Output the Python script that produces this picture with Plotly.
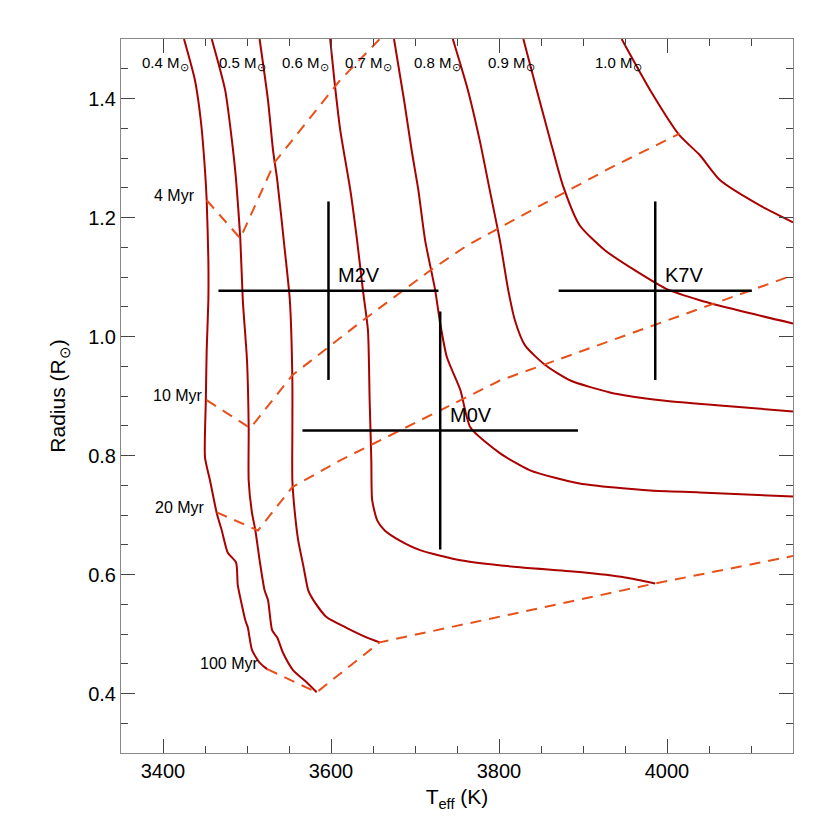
import plotly.graph_objects as go

# pre-main-sequence tracks, Teff (K) and radius (Rsun)
track_teff = [
    [3425, 3438, 3445, 3450, 3452, 3454, 3454, 3452, 3451, 3450, 3456, 3464, 3470, 3477, 3487, 3489, 3494, 3498, 3501, 3506, 3515, 3524],
    [3458, 3474, 3482, 3487, 3492, 3495, 3500, 3502, 3502, 3506, 3510, 3515, 3521, 3525, 3530, 3536, 3543, 3555, 3571, 3583],
    [3515, 3525, 3531, 3536, 3545, 3551, 3554, 3554, 3554, 3557, 3561, 3567, 3573, 3579, 3595, 3619, 3643, 3658],
    [3599, 3604, 3611, 3623, 3631, 3638, 3644, 3646, 3648, 3649, 3655, 3664, 3682, 3706, 3754, 3825, 3896, 3950, 3986],
    [3675, 3687, 3696, 3704, 3712, 3724, 3730, 3738, 3754, 3766, 3801, 3837, 3896, 3980, 4039, 4150],
    [3745, 3763, 3777, 3789, 3801, 3811, 3819, 3831, 3855, 3885, 3932, 3992, 4063, 4150],
    [3829, 3845, 3861, 3876, 3896, 3926, 3962, 3998, 4039, 4099, 4150],
    [3946, 3980, 4015, 4039, 4063, 4111, 4150],
]
track_rad = [
    [1.50, 1.431, 1.363, 1.279, 1.229, 1.128, 1.061, 0.977, 0.893, 0.797, 0.758, 0.703, 0.674, 0.637, 0.620, 0.582, 0.548, 0.523, 0.511, 0.473, 0.452, 0.441],
    [1.50, 1.414, 1.330, 1.263, 1.165, 1.061, 0.960, 0.846, 0.758, 0.703, 0.674, 0.624, 0.573, 0.557, 0.506, 0.494, 0.468, 0.439, 0.419, 0.402],
    [1.50, 1.397, 1.313, 1.263, 1.145, 1.061, 0.926, 0.842, 0.758, 0.703, 0.657, 0.615, 0.573, 0.557, 0.528, 0.510, 0.494, 0.486],
    [1.50, 1.431, 1.347, 1.246, 1.162, 1.078, 1.010, 0.893, 0.792, 0.725, 0.691, 0.674, 0.657, 0.641, 0.624, 0.612, 0.604, 0.595, 0.585],
    [1.50, 1.397, 1.313, 1.246, 1.162, 1.078, 1.022, 0.965, 0.910, 0.847, 0.804, 0.775, 0.753, 0.741, 0.738, 0.731],
    [1.50, 1.414, 1.330, 1.246, 1.162, 1.078, 1.027, 0.985, 0.952, 0.926, 0.906, 0.893, 0.884, 0.874],
    [1.50, 1.414, 1.330, 1.254, 1.187, 1.145, 1.111, 1.081, 1.061, 1.039, 1.022],
    [1.50, 1.414, 1.338, 1.305, 1.263, 1.220, 1.192],
]
mass_labels = ["0.4", "0.5", "0.6", "0.7", "0.8", "0.9", "1.0"]
mass_label_teff = [3373, 3464, 3539, 3614, 3697, 3784, 3912]
mass_label_rad = 1.459

# isochrones
iso_names = ["4 Myr", "10 Myr", "20 Myr", "100 Myr"]
iso_teff = [
    [3452, 3492, 3533, 3611, 3658],
    [3452, 3504, 3554, 3635, 3718, 3762, 3849, 3932, 4015],
    [3464, 3513, 3554, 3611, 3801, 4099, 4150],
    [3524, 3583, 3658, 3986, 4150],
]
iso_rad = [
    [1.229, 1.165, 1.293, 1.431, 1.50],
    [0.893, 0.846, 0.935, 1.024, 1.111, 1.153, 1.220, 1.283, 1.341],
    [0.7045, 0.674, 0.747, 0.792, 0.926, 1.078, 1.103],
    [0.441, 0.402, 0.486, 0.585, 0.631],
]
iso_label_teff = [3440, 3450, 3452, 3515]
iso_label_rad = [1.237, 0.901, 0.713, 0.451]

# spectral type boxes
spt = ["M2V", "M0V", "K7V"]
spt_teff = [3597, 3730, 3986]
spt_teff_err = [131, 164, 115]
spt_rad = [1.077, 0.842, 1.077]
spt_rad_err = [0.15, 0.20, 0.15]

track_color = "#AA0000"
iso_color = "#E8501A"
font = "Liberation Sans, Arial, sans-serif"

fig = go.Figure()

for tx, ty in zip(track_teff, track_rad):
    fig.add_trace(go.Scatter(x=tx, y=ty, mode="lines",
                             line=dict(color=track_color, width=2, shape="spline", smoothing=0.6),
                             showlegend=False))

for name, tx, ty in zip(iso_names, iso_teff, iso_rad):
    fig.add_trace(go.Scatter(x=tx, y=ty, mode="lines", name=name,
                             line=dict(color=iso_color, width=2, dash="11px,8px"),
                             showlegend=False))

fig.add_trace(go.Scatter(
    x=spt_teff, y=spt_rad, mode="markers", marker=dict(size=1, color="black"),
    error_x=dict(type="data", array=spt_teff_err, color="black", thickness=2.5, width=0),
    error_y=dict(type="data", array=spt_rad_err, color="black", thickness=2.5, width=0),
    showlegend=False))

for s, tx, ty in zip(spt, spt_teff, spt_rad):
    fig.add_annotation(x=tx, y=ty, text=s, showarrow=False, xanchor="left", yanchor="middle",
                       xshift=8, yshift=16, font=dict(size=20, color="black", family=font))

for m, tx in zip(mass_labels, mass_label_teff):
    fig.add_annotation(x=tx, y=mass_label_rad, text=m + " M<sub>⊙</sub>", showarrow=False,
                       xanchor="left", yanchor="middle", font=dict(size=15, color="black", family=font))

for name, tx, ty in zip(iso_names, iso_label_teff, iso_label_rad):
    fig.add_annotation(x=tx, y=ty, text=name, showarrow=False, xanchor="right", yanchor="middle",
                       font=dict(size=16, color="black", family=font))

axis_style = dict(
    showline=True, linecolor="#888888", linewidth=1, mirror="ticks",
    ticks="inside", ticklen=14, tickwidth=1, tickcolor="#444444",
    showgrid=False, zeroline=False, automargin=False,
    tickfont=dict(size=20, color="black", family=font),
)
fig.update_xaxes(range=[3350, 4150], dtick=200, tick0=3400,
                 minor=dict(dtick=50, ticks="inside", ticklen=7, tickcolor="#444444"),
                 title=dict(text="T<sub>eff</sub> (K)", font=dict(size=21, color="black", family=font), standoff=8),
                 **axis_style)
fig.update_yaxes(range=[0.3, 1.5], dtick=0.2, tick0=0.4, tickformat=".1f",
                 minor=dict(dtick=0.05, ticks="inside", ticklen=7, tickcolor="#444444"),
                 title=dict(text="Radius (R<sub>⊙</sub>)", font=dict(size=21, color="black", family=font), standoff=16),
                 **axis_style)

# the page body adds an 8px offset, so the margins are trimmed by that much
fig.update_layout(width=830, height=830, plot_bgcolor="white", paper_bgcolor="white",
                  margin=dict(l=113, r=45, t=31, b=85), font=dict(family=font))

fig.write_html("out.html")
